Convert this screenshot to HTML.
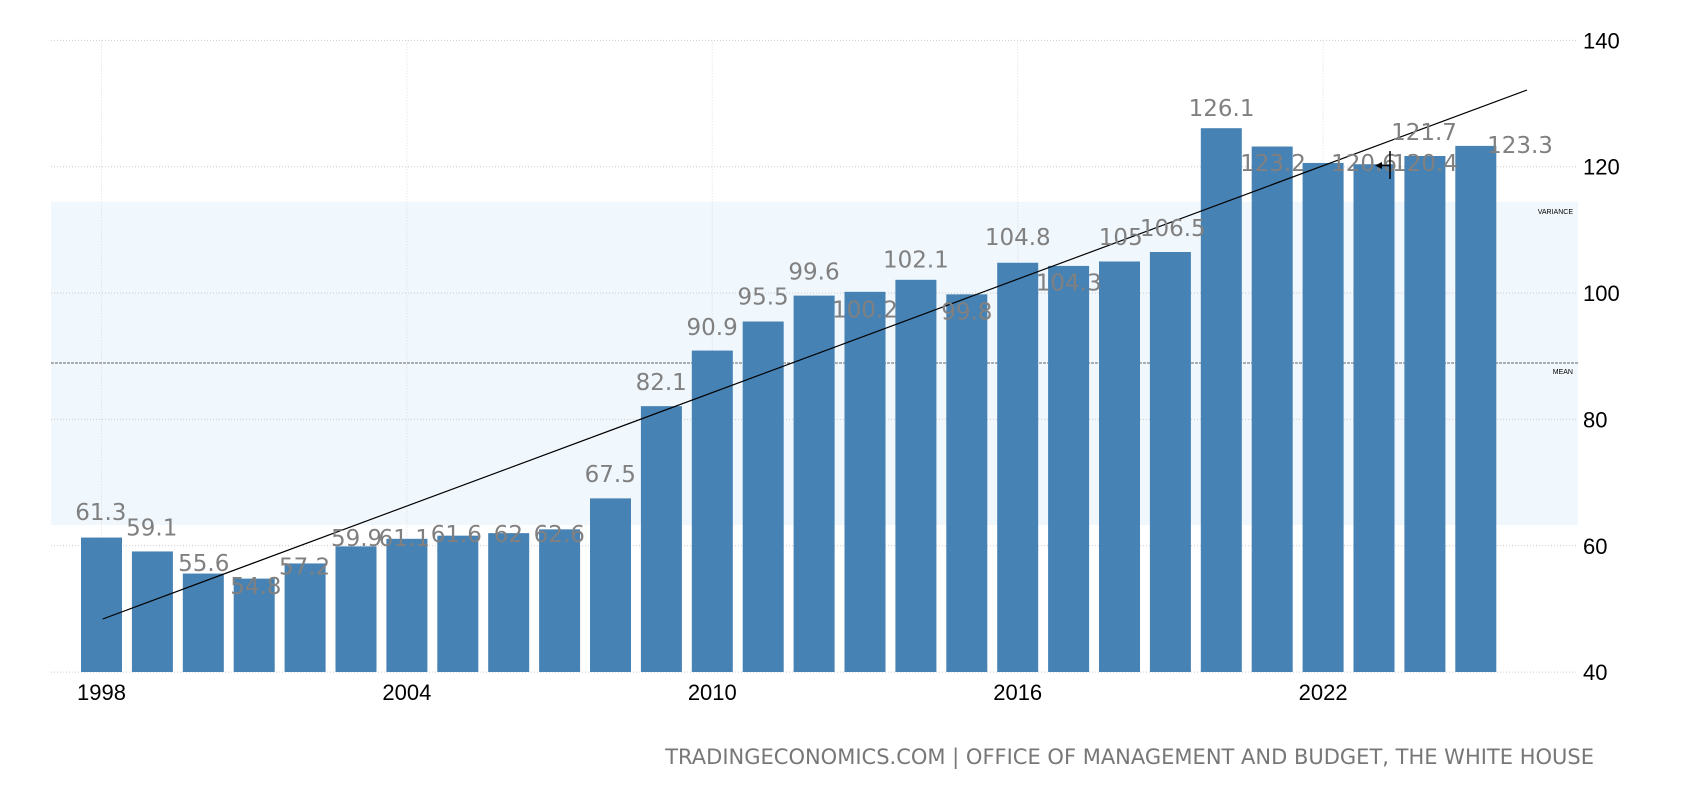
<!DOCTYPE html>
<html><head><meta charset="utf-8"><style>
html,body{margin:0;padding:0;background:#fff;width:1700px;height:800px;overflow:hidden}
svg{display:block}
</style></head><body>
<svg id="s" width="1700" height="800" xmlns="http://www.w3.org/2000/svg" font-family="'DejaVu Sans',sans-serif">
<rect x="51" y="201.7" width="1527" height="323.3" fill="#f0f7fd"/>
<g id="grid"></g>
<line x1="51" y1="363" x2="1578" y2="363" stroke="#666" stroke-width="1" stroke-dasharray="3,1"/>
<text x="1573" y="214" font-size="7" text-anchor="end" fill="#000" font-family="'Liberation Sans',sans-serif">VARIANCE</text>
<text x="1573" y="374" font-size="7" text-anchor="end" fill="#000" font-family="'Liberation Sans',sans-serif">MEAN</text>
<g id="bars"></g>
<line x1="102.7" y1="619" x2="1527" y2="90" stroke="#000" stroke-width="1.2"/>
<g id="labels"></g>
<polygon points="1375,165.5 1382,162 1382,169" fill="#000"/>
<line x1="1380" y1="165.5" x2="1390" y2="165.5" stroke="#000" stroke-width="1.5"/>
<line x1="1390" y1="151" x2="1390" y2="179" stroke="#000" stroke-width="1.5"/>
<text x="1594" y="764" font-size="21" text-anchor="end" fill="#777">TRADINGECONOMICS.COM | OFFICE OF MANAGEMENT AND BUDGET, THE WHITE HOUSE</text>
</svg>
<script>
var NS="http://www.w3.org/2000/svg";
function el(p,t,a,txt){var e=document.createElementNS(NS,t);for(var k in a)e.setAttribute(k,a[k]);if(txt!=null)e.textContent=txt;document.getElementById(p).appendChild(e);return e;}
function Y(v){return 40.4+(140-v)*6.317;}
var vals=[61.3,59.1,55.6,54.8,57.2,59.9,61.1,61.6,62,62.6,67.5,82.1,90.9,95.5,99.6,100.2,102.1,99.8,104.8,104.3,105,106.5,126.1,123.2,120.6,120.4,121.7,123.3];
var pos=[[93,472],[140,486],[188,519],[236,540],[281,522],[329,496],[373,496],[421,492],[469,492],[516,492],[563,437],[610,352],[657,301],[704,273],[751,250],[798,285],[845,239],[892,287],[939,218],[986,260],[1034,218],[1082,210],[1127,99]];
var S=1.0839;
var real={23:[1273,171],24:[1364,171],25:[1425,171],26:[1424,140],27:[1520,153]};
var step=50.9,c0=101.5;
[40,60,80,100,120,140].forEach(function(v){
 el("grid","line",{x1:51,x2:1578,y1:Y(v),y2:Y(v),stroke:"#ccc","stroke-dasharray":"1,2"});
 el("labels","text",{x:1583,y:Y(v)+8,"font-size":22,fill:"#000","font-family":"'Liberation Sans',sans-serif"},v);
});
for(var i=0;i<28;i+=6){var x=c0+i*step;
 el("grid","line",{x1:x,x2:x,y1:40.4,y2:672,stroke:"#ddd","stroke-dasharray":"1,2"});
 el("labels","text",{x:x,y:700,"font-size":22,"text-anchor":"middle",fill:"#000","font-family":"'Liberation Sans',sans-serif"},1998+i);
}
for(var i=0;i<vals.length;i++){var c=c0+i*step,v=vals[i];
 el("bars","rect",{x:c-20.5,y:Y(v),width:41,height:672-Y(v),fill:"#4682b4"});
 var px,py;
 if(real[i]){px=real[i][0];py=real[i][1];}else{px=pos[i][0]*S;py=pos[i][1]*S+8.5;}
 el("labels","text",{x:px,y:py,"font-size":23,"text-anchor":"middle",fill:"#808080"},String(v));
}
</script>
</body></html>
